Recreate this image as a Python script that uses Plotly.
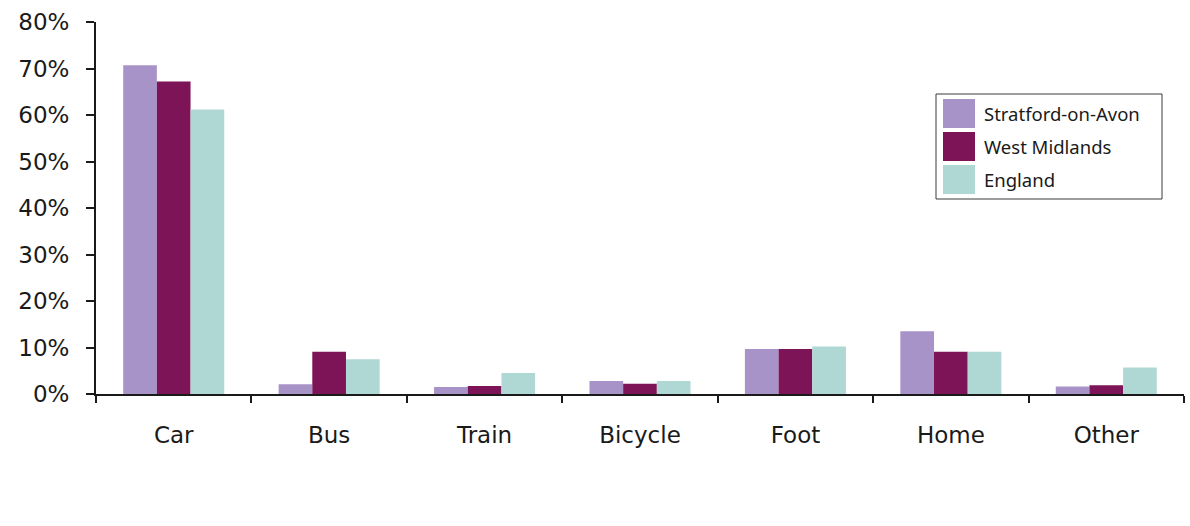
import plotly.graph_objects as go

# Mode of travel to work, share of working residents
categories = ["Car", "Bus", "Train", "Bicycle", "Foot", "Home", "Other"]
series_names = ["Stratford-on-Avon", "West Midlands", "England"]
stratford = [70.7, 2.1, 1.5, 2.8, 9.7, 13.5, 1.6]
west_midlands = [67.2, 9.1, 1.7, 2.2, 9.7, 9.1, 1.9]
england = [61.2, 7.5, 4.5, 2.8, 10.2, 9.1, 5.7]
y_ticks = [0, 10, 20, 30, 40, 50, 60, 70, 80]
y_tick_labels = [f"{v}%" for v in y_ticks]

colors = ["#a893c8", "#7d1458", "#afd8d4"]
series_values = [stratford, west_midlands, england]

W, H = 1190, 526
M_L, M_R, M_T, M_B = 96, 6, 22, 132
PW, PH = W - M_L - M_R, H - M_T - M_B


def px_x(x):
    return (x - M_L) / PW


def px_y(y):
    return (H - M_B - y) / PH


fig = go.Figure()
for name, vals, col in zip(series_names, series_values, colors):
    fig.add_trace(go.Bar(
        x=categories, y=vals, name=name,
        marker=dict(color=col, line=dict(width=0)),
        showlegend=False,
    ))

# Boxed key with large colour swatches
shapes = [dict(type="rect", xref="paper", yref="paper",
               x0=px_x(936), x1=px_x(1162), y0=px_y(199), y1=px_y(94),
               line=dict(color="#3a3a3a", width=1), fillcolor="white", layer="above")]
annotations = []
row_tops = [99, 132, 165]
for name, col, top in zip(series_names, colors, row_tops):
    shapes.append(dict(type="rect", xref="paper", yref="paper",
                       x0=px_x(943), x1=px_x(975), y0=px_y(top + 29), y1=px_y(top),
                       line=dict(width=0), fillcolor=col, layer="above"))
    annotations.append(dict(xref="paper", yref="paper", x=px_x(982), y=px_y(top + 14.5),
                            text=name, showarrow=False, xanchor="left", yanchor="middle",
                            font=dict(family="Noto Sans", size=18.5, color="#1a1a1a")))

fig.update_layout(
    width=W, height=H,
    margin=dict(l=M_L, r=M_R, t=M_T, b=M_B, pad=0),
    paper_bgcolor="white", plot_bgcolor="white",
    barmode="group", bargap=0.35, bargroupgap=0,
    shapes=shapes, annotations=annotations,
    font=dict(family="DejaVu Sans", size=23, color="#1a1a1a"),
)
fig.update_xaxes(
    type="category", tickson="boundaries", ticks="outside", ticklen=7,
    tickwidth=2, tickcolor="#1a1a1a", showline=True, linecolor="#1a1a1a",
    linewidth=2, showgrid=False, zeroline=False, ticklabelstandoff=19,
    tickfont=dict(family="DejaVu Sans", size=23, color="#1a1a1a"),
)
fig.update_yaxes(
    range=[0, 80], tickvals=y_ticks, ticktext=y_tick_labels, ticks="outside",
    ticklen=8, tickwidth=2, tickcolor="#1a1a1a", showline=True,
    linecolor="#1a1a1a", linewidth=2, showgrid=False, zeroline=False,
    ticklabelstandoff=12,
    tickfont=dict(family="DejaVu Sans", size=23, color="#1a1a1a"),
)

fig.write_html("out.html")
